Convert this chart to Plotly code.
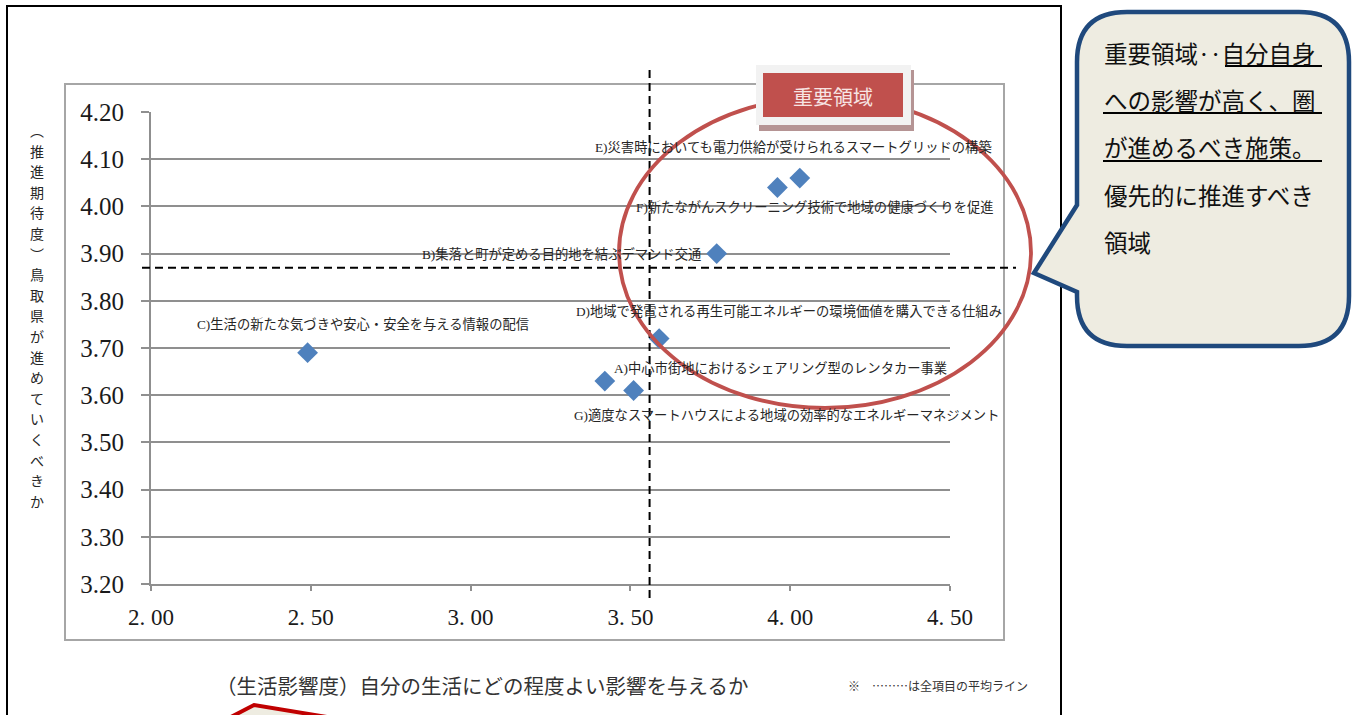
import plotly.graph_objects as go

# ---------------- data ----------------
codes = ["A", "B", "C", "D", "E", "F", "G"]
item_names = [
    "中心市街地におけるシェアリング型のレンタカー事業",
    "集落と町が定める目的地を結ぶデマンド交通",
    "生活の新たな気づきや安心・安全を与える情報の配信",
    "地域で発電される再生可能エネルギーの環境価値を購入できる仕組み",
    "災害時においても電力供給が受けられるスマートグリッドの構築",
    "新たながんスクリーニング技術で地域の健康づくりを促進",
    "適度なスマートハウスによる地域の効率的なエネルギーマネジメント",
]
life_impact = [3.42, 3.77, 2.49, 3.59, 4.03, 3.96, 3.51]   # x
promotion = [3.63, 3.90, 3.69, 3.72, 4.06, 4.04, 3.61]     # y
avg_life_impact = 3.56
avg_promotion = 3.87

x_tick_vals = [2.0, 2.5, 3.0, 3.5, 4.0, 4.5]
x_tick_text = ["2. 00", "2. 50", "3. 00", "3. 50", "4. 00", "4. 50"]
y_tick_vals = [3.2, 3.3, 3.4, 3.5, 3.6, 3.7, 3.8, 3.9, 4.0, 4.1, 4.2]
y_tick_text = ["3.20", "3.30", "3.40", "3.50", "3.60", "3.70", "3.80", "3.90", "4.00", "4.10", "4.20"]

x_title = "（生活影響度）自分の生活にどの程度よい影響を与えるか"
y_title_chars = ["︵", "推", "進", "期", "待", "度", "︶",
                 "鳥", "取", "県", "が", "進", "め", "て", "い", "く", "べ", "き", "か"]
note_text = "※　………は全項目の平均ライン"
zone_label = "重要領域"
callout_lines = ["重要領域‥自分自身", "への影響が高く、圏", "が進めるべき施策。", "優先的に推進すべき", "領域"]

# ---------------- layout helpers (pixels -> paper) ----------------
W, H = 1359, 715
L, R, T, B = 151, 950, 112, 584


def PX(x):
    return (x - L) / (R - L)


def PY(y):
    return (B - y) / (B - T)


GRID = "#8f8f8f"
SERIF_JP = "Liberation Serif, Noto Sans CJK JP"
JP = "Noto Sans CJK JP"

fig = go.Figure()
fig.add_trace(go.Scatter(
    x=life_impact, y=promotion, mode="markers",
    marker=dict(symbol="diamond", size=16, color="#4f81bd", line=dict(width=0)),
    hoverinfo="skip", showlegend=False, cliponaxis=False,
))

shapes = []
# outer black frame
shapes.append(dict(type="rect", xref="paper", yref="paper", x0=PX(7), x1=PX(1061), y0=PY(6), y1=PY(730),
                   line=dict(color="black", width=2), fillcolor="rgba(0,0,0,0)", layer="below"))
# inner gray chart frame
shapes.append(dict(type="rect", xref="paper", yref="paper", x0=PX(65), x1=PX(1004), y0=PY(84), y1=PY(640),
                   line=dict(color="#a6a6a6", width=2), fillcolor="rgba(0,0,0,0)", layer="below"))
# average lines
shapes.append(dict(type="line", xref="x", yref="paper", x0=avg_life_impact, x1=avg_life_impact,
                   y0=PY(70), y1=PY(600), line=dict(color="black", width=2, dash="8px,5px"), layer="above"))
shapes.append(dict(type="line", xref="paper", yref="y", x0=PX(142), x1=PX(1016),
                   y0=avg_promotion, y1=avg_promotion, line=dict(color="black", width=2, dash="8px,5px"),
                   layer="above"))
# ellipse
shapes.append(dict(type="circle", xref="paper", yref="paper", x0=PX(619), x1=PX(1031), y0=PY(97), y1=PY(408),
                   line=dict(color="#c0504d", width=3.8), fillcolor="rgba(0,0,0,0)", layer="above"))
# zone label box: shadow, frame, red body
shapes.append(dict(type="rect", xref="paper", yref="paper", x0=PX(759), x1=PX(914), y0=PY(70), y1=PY(131),
                   line=dict(width=0), fillcolor="#b59494", layer="above"))
shapes.append(dict(type="rect", xref="paper", yref="paper", x0=PX(756), x1=PX(911), y0=PY(65), y1=PY(125),
                   line=dict(width=0), fillcolor="#f2f2f2", layer="above"))
shapes.append(dict(type="rect", xref="paper", yref="paper", x0=PX(763), x1=PX(903), y0=PY(73), y1=PY(117),
                   line=dict(width=0), fillcolor="#c0504d", layer="above"))


def path_from(points_cmds):
    out = []
    for cmd, pts in points_cmds:
        coords = " ".join(f"{PX(x):.5f},{PY(y):.5f}" for x, y in pts)
        out.append(f"{cmd}{coords}" if coords else cmd)
    return " ".join(out)


# callout bubble
cL, cR, cT, cB, rr = 1077, 1349, 12, 346, 50
bubble = path_from([
    ("M", [(cL, cT + rr)]),
    ("Q", [(cL, cT), (cL + rr, cT)]),
    ("L", [(cR - rr, cT)]),
    ("Q", [(cR, cT), (cR, cT + rr)]),
    ("L", [(cR, cB - rr)]),
    ("Q", [(cR, cB), (cR - rr, cB)]),
    ("L", [(cL + rr, cB)]),
    ("Q", [(cL, cB), (cL, cB - rr)]),
    ("L", [(cL, 292)]),
    ("L", [(1034, 273)]),
    ("L", [(cL, 205)]),
    ("Z", []),
])
shapes.append(dict(type="path", xref="paper", yref="paper", path=bubble,
                   line=dict(color="#1f497d", width=4.5), fillcolor="#eeece1", layer="above"))
# underlines in callout
for x0, x1, y in [(1225, 1322, 66), (1103, 1322, 113), (1103, 1322, 161)]:
    shapes.append(dict(type="line", xref="paper", yref="paper", x0=PX(x0), x1=PX(x1), y0=PY(y), y1=PY(y),
                       line=dict(color="black", width=2), layer="above"))
# partial red shape at bottom
bottom_shape = path_from([("M", [(229, 718)]), ("L", [(254, 705)]), ("L", [(333, 718)]), ("Z", [])])
shapes.append(dict(type="path", xref="paper", yref="paper", path=bottom_shape,
                   line=dict(color="#c00000", width=4), fillcolor="#eeece1", layer="above"))

annotations = []
# point labels (pixel offsets from each point)
label_offsets = {"A": (176, 13), "B": (-155, 0), "C": (55, 28), "D": (130, 27),
                 "E": (-6, 31), "F": (38, -20), "G": (153, -25)}
for c, n, x, y in zip(codes, item_names, life_impact, promotion):
    dx, dy = label_offsets[c]
    annotations.append(dict(x=x, y=y, xref="x", yref="y", text=f"{c}){n}", showarrow=False,
                            xshift=dx, yshift=dy, xanchor="center", yanchor="middle",
                            font=dict(family=SERIF_JP, size=13.3, color="#262626")))
# zone label text
annotations.append(dict(x=PX(833), y=PY(97), xref="paper", yref="paper", text=zone_label, showarrow=False,
                        xanchor="center", yanchor="middle", font=dict(family=JP, size=20, color="#f7e4e3")))
# callout text
for i, line in enumerate(callout_lines):
    annotations.append(dict(x=PX(1102), y=PY(53 + 47.2 * i), xref="paper", yref="paper", text=line,
                            showarrow=False, xanchor="left", yanchor="middle",
                            font=dict(family=JP, size=23.5, color="#111111")))
# x title
annotations.append(dict(x=PX(482), y=PY(685), xref="paper", yref="paper", text=x_title, showarrow=False,
                        xanchor="center", yanchor="middle", font=dict(family=JP, size=20.5, color="#333333")))
# note
annotations.append(dict(x=PX(938), y=PY(685), xref="paper", yref="paper", text=note_text, showarrow=False,
                        xanchor="center", yanchor="middle", font=dict(family=JP, size=12, color="#333333")))
# vertical y title (one upright character per annotation)
for i, ch in enumerate(y_title_chars):
    annotations.append(dict(x=PX(37), y=PY(130 + 20.6 * i), xref="paper", yref="paper", text=ch,
                            showarrow=False, xanchor="center", yanchor="middle", borderpad=0,
                            font=dict(family=JP, size=14, color="#262626")))

fig.update_layout(
    width=W, height=H,
    margin=dict(l=L, r=W - R, t=T, b=H - B, pad=0),
    paper_bgcolor="white", plot_bgcolor="white",
    showlegend=False,
    xaxis=dict(range=[2.0, 4.5], tickmode="array", tickvals=x_tick_vals, ticktext=x_tick_text,
               showgrid=False, zeroline=False, showline=True, linecolor=GRID, linewidth=2,
               ticks="outside", ticklen=5, tickwidth=2, tickcolor=GRID, ticklabelstandoff=6,
               tickfont=dict(family="Liberation Serif", size=23, color="#1a1a1a")),
    yaxis=dict(range=[3.2, 4.2], tickmode="array", tickvals=y_tick_vals, ticktext=y_tick_text,
               showgrid=True, gridcolor=GRID, gridwidth=2, zeroline=False, showline=True,
               linecolor=GRID, linewidth=2, ticks="outside", ticklen=8, tickwidth=2, tickcolor=GRID,
               ticklabelstandoff=12,
               tickfont=dict(family="Liberation Serif", size=25, color="#1a1a1a")),
    shapes=shapes,
    annotations=annotations,
)

fig.write_html("out.html")
